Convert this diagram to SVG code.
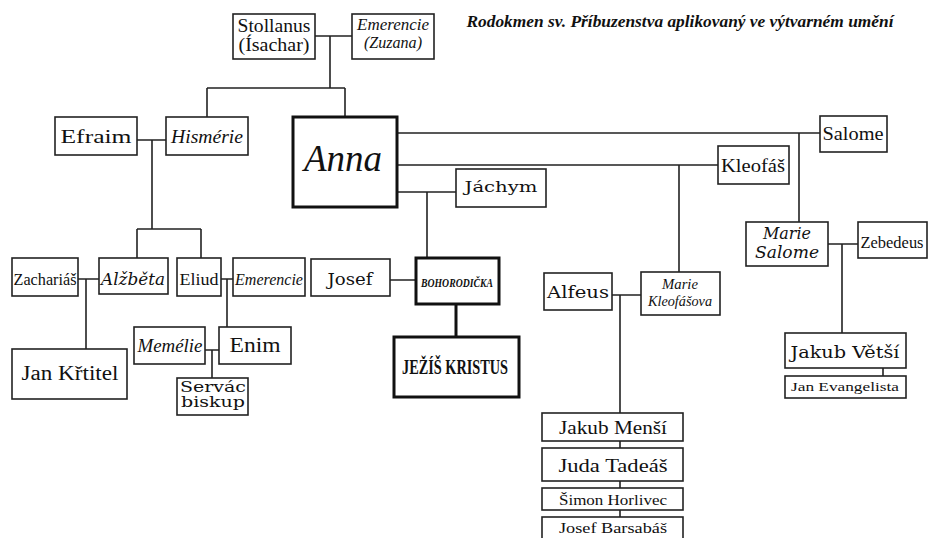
<svg xmlns="http://www.w3.org/2000/svg" width="928" height="538" viewBox="0 0 928 538">
<style>
.b{fill:#fff;stroke:#222;stroke-width:1.6}
.t{fill:#fff;stroke:#111;stroke-width:3}
.c{fill:none;stroke:#222;stroke-width:1.6}
.ct{fill:none;stroke:#111;stroke-width:3}
text{font-family:"Liberation Serif","Times New Roman",serif;fill:#111;text-anchor:middle}
.i{font-style:italic}
.w{font-family:"DejaVu Serif","Liberation Serif",serif}
</style>
<rect width="928" height="538" fill="#fff"/>
<text x="680" y="27" font-size="17" font-weight="bold" font-style="italic" textLength="427" lengthAdjust="spacingAndGlyphs">Rodokmen sv. Příbuzenstva aplikovaný ve výtvarném umění</text>
<g id="connectors">
<path class="c" d="M315,36H352M330,36V88M207,88H345M207,88V117M345,88V117"/>
<path class="c" d="M137,140H166M152,140V229M137,229H201M137,229V258M201,229V258"/>
<path class="c" d="M78,279H99M86,279V349M221,279H233M227,279V327M205,350H219M212,350V378"/>
<path class="c" d="M397,133H820M799,133V222M397,165H718M679,165V272M397,192H456M427,192V258M390,280H416"/>
<path class="ct" d="M456,304V337"/>
<path class="c" d="M612,295H641M620,295V413M620,441V448M620,481V488M620,510V517"/>
<path class="c" d="M828,244H858M842,244V333M883,368V376"/>
</g>
<g id="stollanus"><rect class="b" x="233" y="14" width="82" height="45"/><text x="274" y="32" font-size="18" textLength="73" lengthAdjust="spacingAndGlyphs">Stollanus</text><text x="274" y="51" font-size="18" textLength="71" lengthAdjust="spacingAndGlyphs">(Ísachar)</text></g>
<g id="emerencie-zuzana"><rect class="b" x="352" y="14" width="82" height="45"/><text class="i" x="393" y="30" font-size="16" textLength="72" lengthAdjust="spacingAndGlyphs">Emerencie</text><text class="i" x="393" y="48" font-size="16" textLength="58" lengthAdjust="spacingAndGlyphs">(Zuzana)</text></g>
<g id="efraim"><rect class="b" x="55" y="117" width="82" height="38"/><text x="96" y="143" font-size="19" textLength="71" lengthAdjust="spacingAndGlyphs">Efraim</text></g>
<g id="hismerie"><rect class="b" x="166" y="117" width="82" height="38"/><text class="i" x="207" y="143" font-size="18" textLength="72" lengthAdjust="spacingAndGlyphs">Hismérie</text></g>
<g id="anna"><rect class="t" x="293" y="117" width="104" height="90"/><text class="i" x="343" y="171" font-size="37" textLength="78" lengthAdjust="spacingAndGlyphs">Anna</text></g>
<g id="jachym"><rect class="b" x="456" y="169" width="90" height="38"/><text class="w" x="501" y="192" font-size="15" textLength="73" lengthAdjust="spacingAndGlyphs">Jáchym</text></g>
<g id="kleofas"><rect class="b" x="718" y="146" width="71" height="38"/><text x="753" y="172" font-size="18" textLength="64" lengthAdjust="spacingAndGlyphs">Kleofáš</text></g>
<g id="salome"><rect class="b" x="820" y="116" width="67" height="36"/><text x="853" y="140" font-size="18" textLength="61" lengthAdjust="spacingAndGlyphs">Salome</text></g>
<g id="zacharias"><rect class="b" x="12" y="258" width="66" height="38"/><text x="45" y="285" font-size="16" textLength="63" lengthAdjust="spacingAndGlyphs">Zachariáš</text></g>
<g id="alzbeta"><rect class="b" x="99" y="258" width="69" height="36"/><text class="i w" x="133" y="285" font-size="16" textLength="64" lengthAdjust="spacingAndGlyphs">Alžběta</text></g>
<g id="eliud"><rect class="b" x="177" y="258" width="44" height="38"/><text x="199" y="285" font-size="17" textLength="39" lengthAdjust="spacingAndGlyphs">Eliud</text></g>
<g id="emerencie"><rect class="b" x="233" y="258" width="72" height="38"/><text class="i" x="269" y="285" font-size="17" textLength="68" lengthAdjust="spacingAndGlyphs">Emerencie</text></g>
<g id="jan-krtitel"><rect class="b" x="12" y="349" width="115" height="50"/><text x="70" y="380" font-size="20" textLength="97" lengthAdjust="spacingAndGlyphs">Jan Křtitel</text></g>
<g id="memelie"><rect class="b" x="134" y="327" width="71" height="37"/><text class="i" x="170" y="352" font-size="18" textLength="65" lengthAdjust="spacingAndGlyphs">Memélie</text></g>
<g id="enim"><rect class="b" x="219" y="327" width="72" height="37"/><text x="255" y="352" font-size="21" textLength="51" lengthAdjust="spacingAndGlyphs">Enim</text></g>
<g id="servac"><rect class="b" x="177" y="378" width="71" height="37"/><text class="w" x="213" y="392" font-size="14" textLength="66" lengthAdjust="spacingAndGlyphs">Servác</text><text class="w" x="213" y="407" font-size="14" textLength="64" lengthAdjust="spacingAndGlyphs">biskup</text></g>
<g id="josef"><rect class="b" x="311" y="259" width="79" height="37"/><text class="w" x="350" y="285" font-size="16" textLength="45" lengthAdjust="spacingAndGlyphs">Josef</text></g>
<g id="bohorodicka"><rect class="t" x="416" y="258" width="83" height="46"/><text x="457" y="287" font-size="12" font-weight="bold" font-style="italic" textLength="72" lengthAdjust="spacingAndGlyphs">BOHORODIČKA</text></g>
<g id="jezis"><rect class="t" x="394" y="337" width="125" height="60"/><text x="455" y="374" font-size="21" font-weight="bold" textLength="106" lengthAdjust="spacingAndGlyphs">JEŽÍŠ KRISTUS</text></g>
<g id="alfeus"><rect class="b" x="544" y="273" width="68" height="37"/><text class="w" x="578" y="298" font-size="17" textLength="62" lengthAdjust="spacingAndGlyphs">Alfeus</text></g>
<g id="marie-kleofasova"><rect class="b" x="641" y="272" width="79" height="43"/><text class="i" x="680" y="289" font-size="15" textLength="36" lengthAdjust="spacingAndGlyphs">Marie</text><text class="i" x="680" y="306" font-size="15" textLength="64" lengthAdjust="spacingAndGlyphs">Kleofášova</text></g>
<g id="marie-salome"><rect class="b" x="746" y="222" width="82" height="44"/><text class="i w" x="787" y="239" font-size="16" textLength="48" lengthAdjust="spacingAndGlyphs">Marie</text><text class="i w" x="787" y="258" font-size="16" textLength="64" lengthAdjust="spacingAndGlyphs">Salome</text></g>
<g id="zebedeus"><rect class="b" x="858" y="222" width="69" height="36"/><text x="892" y="248" font-size="17" textLength="63" lengthAdjust="spacingAndGlyphs">Zebedeus</text></g>
<g id="jakub-vetsi"><rect class="b" x="785" y="333" width="121" height="35"/><text class="w" x="845" y="358" font-size="17" textLength="109" lengthAdjust="spacingAndGlyphs">Jakub Větší</text></g>
<g id="jan-evangelista"><rect class="b" x="785" y="376" width="121" height="22"/><text x="845" y="391" font-size="13" textLength="108" lengthAdjust="spacingAndGlyphs">Jan Evangelista</text></g>
<g id="jakub-mensi"><rect class="b" x="542" y="413" width="141" height="28"/><text x="613" y="434" font-size="18" textLength="108" lengthAdjust="spacingAndGlyphs">Jakub Menší</text></g>
<g id="juda-tadeas"><rect class="b" x="542" y="448" width="141" height="33"/><text x="613" y="472" font-size="18" textLength="109" lengthAdjust="spacingAndGlyphs">Juda Tadeáš</text></g>
<g id="simon-horlivec"><rect class="b" x="542" y="488" width="141" height="22"/><text x="613" y="505" font-size="14" textLength="108" lengthAdjust="spacingAndGlyphs">Šimon Horlivec</text></g>
<g id="josef-barsabas"><rect class="b" x="542" y="517" width="141" height="26"/><text x="613" y="533" font-size="15" textLength="108" lengthAdjust="spacingAndGlyphs">Josef Barsabáš</text></g>
</svg>
